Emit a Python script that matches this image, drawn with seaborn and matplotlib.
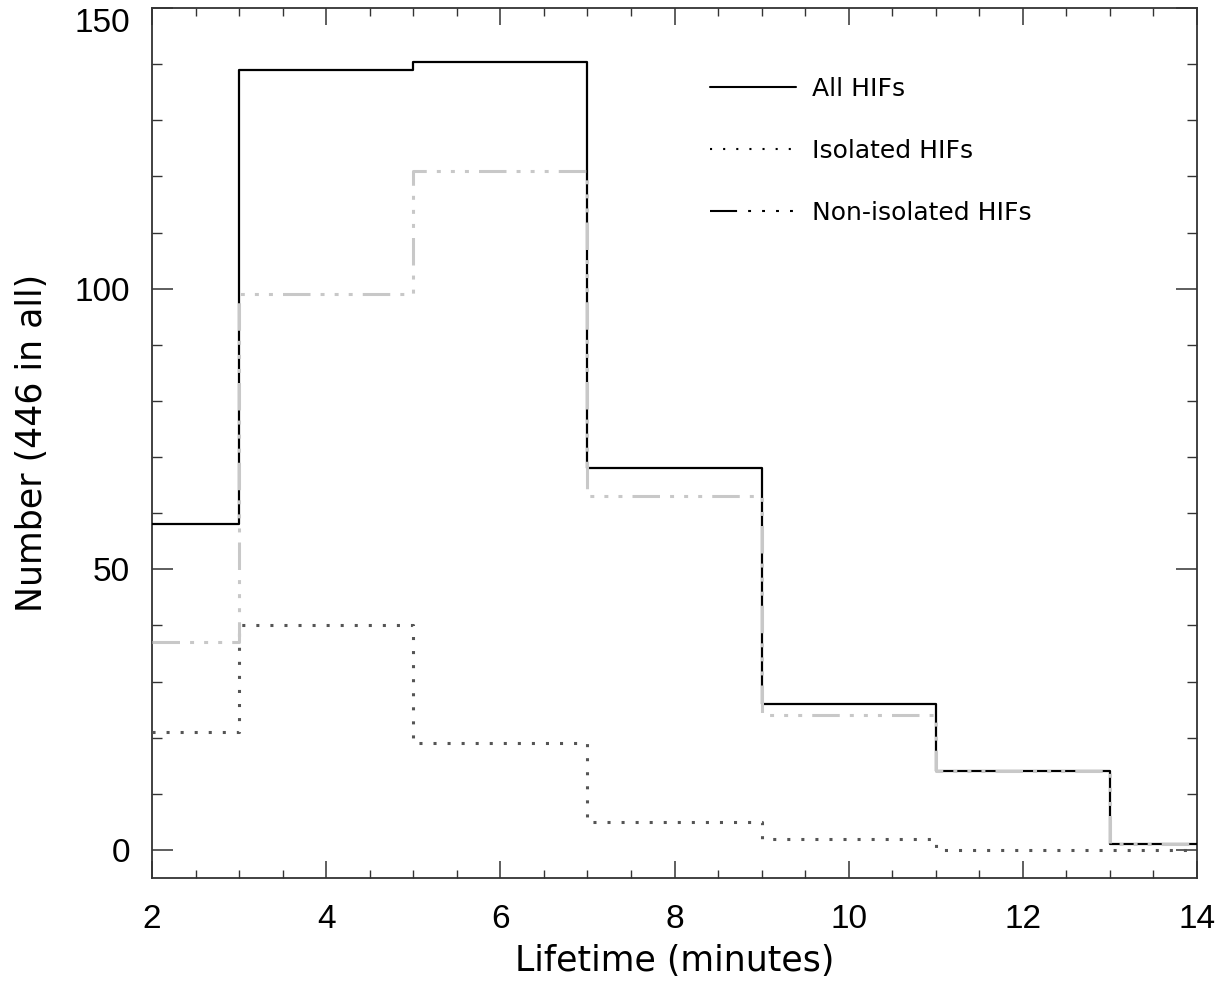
import matplotlib
matplotlib.use("Agg")
import matplotlib.pyplot as plt
import seaborn as sns
from matplotlib.lines import Line2D
from matplotlib.ticker import MultipleLocator

sns.set_style("ticks")
plt.rcParams['font.family'] = ['Liberation Sans', 'DejaVu Sans']
plt.rcParams['text.color'] = 'black'
plt.rcParams['axes.labelcolor'] = 'black'
plt.rcParams['xtick.labelcolor'] = 'black'
plt.rcParams['ytick.labelcolor'] = 'black'

lifetime = [2, 4, 6, 8, 10, 12, 14]
all_hifs = [58, 139, 140.3, 68, 26, 14, 1]
isolated_hifs = [21, 40, 19, 5, 2, 0, 0]
non_isolated_hifs = [37, 99, 121, 63, 24, 14, 1]

labels = ["All HIFs", "Isolated HIFs", "Non-isolated HIFs"]
y_ticks = [0, 50, 100, 150]
x_ticks = [2, 4, 6, 8, 10, 12, 14]

fig = plt.figure(figsize=(12.32, 9.9), dpi=100)
ax = fig.add_axes([0.1234, 0.1131, 0.8482, 0.8788])

dot_style = (0, (1, 3.6))
dash3dot = (0, (9, 3.3, 1.3, 3.3, 1.3, 3.3, 1.3, 3.3))

sns.lineplot(x=lifetime, y=all_hifs, ax=ax, drawstyle='steps-mid',
             color='black', linewidth=1.6, linestyle='-', zorder=3)
sns.lineplot(x=lifetime, y=isolated_hifs, ax=ax, drawstyle='steps-mid',
             color='#555555', linewidth=2.2, linestyle=dot_style, zorder=3)
sns.lineplot(x=lifetime, y=non_isolated_hifs, ax=ax, drawstyle='steps-mid',
             color='#c8c8c8', linewidth=2.2, linestyle=dash3dot, zorder=4)

ax.set_xlim(2, 14)
ax.set_ylim(-5, 150)
ax.set_xticks(x_ticks, [str(v) for v in x_ticks])
ax.set_yticks(y_ticks, [str(v) for v in y_ticks])
ax.xaxis.set_minor_locator(MultipleLocator(0.5))
ax.yaxis.set_minor_locator(MultipleLocator(10))
ax.tick_params(which='both', direction='in', top=True, right=True,
               color='#333333', labelsize=24)
ax.tick_params(axis='x', which='major', length=12.2, width=1.1, pad=19)
ax.tick_params(axis='x', which='minor', length=6.1, width=1.0)
ax.tick_params(axis='y', which='major', length=15, width=1.1, pad=16)
ax.tick_params(axis='y', which='minor', length=7.5, width=1.0)
for s in ax.spines.values():
    s.set_linewidth(1.3)
    s.set_color('#333333')
for t in ax.get_yticklabels():
    if t.get_text() == '150':
        t.set_va('top')

ax.set_xlabel("Lifetime (minutes)", fontsize=25, labelpad=6,
              family=['DejaVu Sans'])
ax.set_ylabel("Number (446 in all)", fontsize=25, labelpad=18,
              family=['DejaVu Sans'])

handles = [
    Line2D([], [], color='black', linewidth=1.5, linestyle='-'),
    Line2D([], [], color='black', linewidth=1.5, linestyle=(0, (1, 5.3))),
    Line2D([], [], color='black', linewidth=1.5,
           linestyle=(0, (13, 5.3, 1.4, 5.3, 1.4, 5.3, 1.4, 5.3, 1.4, 5.3))),
]
ax.legend(handles, labels, loc='upper left', bbox_to_anchor=(0.534, 0.9207),
          frameon=False, prop={'family': 'DejaVu Sans', 'size': 18},
          handlelength=3.44, handletextpad=0.64,
          labelspacing=1.52, borderaxespad=0, borderpad=0)

fig.savefig("out.png", dpi=100)
